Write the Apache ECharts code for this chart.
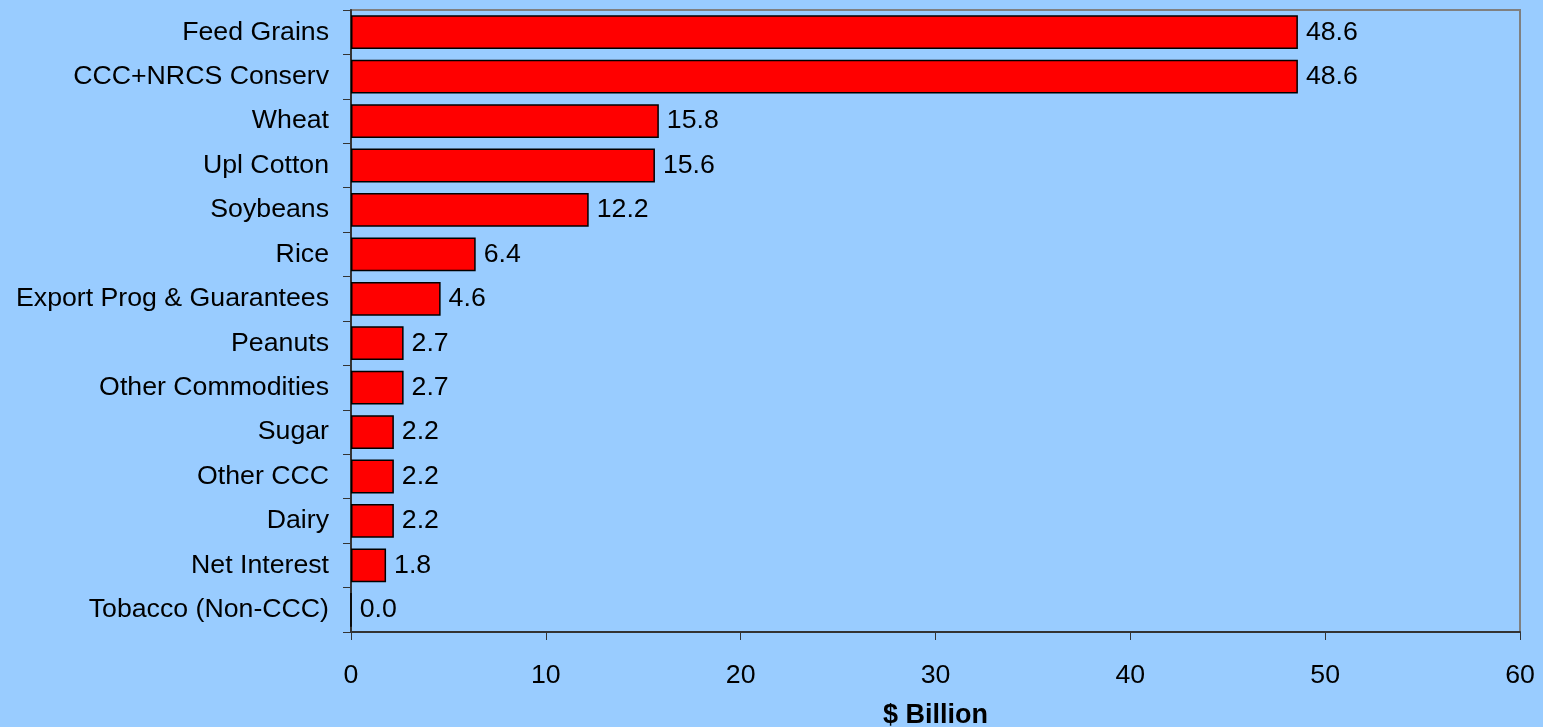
<!DOCTYPE html>
<html><head><meta charset="utf-8">
<script src="https://cdn.jsdelivr.net/npm/echarts@6/dist/echarts.min.js"></script>
<style>html,body{margin:0;padding:0;background:#99CCFF;}#c{width:1543px;height:727px;}</style>
</head><body><div id="c"></div>
<script>
const categories = ["Feed Grains","CCC+NRCS Conserv","Wheat","Upl Cotton","Soybeans","Rice","Export Prog & Guarantees","Peanuts","Other Commodities","Sugar","Other CCC","Dairy","Net Interest","Tobacco (Non-CCC)"];
const values = [48.6,48.6,15.8,15.6,12.2,6.4,4.6,2.7,2.7,2.2,2.2,2.2,1.8,0.0];
const xTicks = [0,10,20,30,40,50,60];

const chart = echarts.init(document.getElementById('c'));
chart.setOption({
  backgroundColor:'#99CCFF',
  animation:false,
  grid:{left:351,right:23,top:10,bottom:95,outerBoundsMode:'none',containLabel:false,show:true,borderColor:'#808080',borderWidth:2,backgroundColor:'transparent'},
  xAxis:{type:'value',min:xTicks[0],max:xTicks[xTicks.length-1],interval:10,
    name:'$ Billion',nameLocation:'middle',nameGap:70,
    nameTextStyle:{fontFamily:'Liberation Sans',fontSize:27,fontWeight:'bold',color:'#000'},
    axisLine:{show:true,lineStyle:{color:'#333',width:2}},
    axisTick:{show:true,length:8,lineStyle:{color:'#333'}},
    axisLabel:{fontFamily:'Liberation Sans',fontSize:26.7,color:'#000',margin:30},
    splitLine:{show:false}},
  yAxis:{type:'category',data:categories,inverse:true,
    axisLine:{show:true,lineStyle:{color:'#333',width:2}},
    axisTick:{show:true,length:8,lineStyle:{color:'#333'}},
    axisLabel:{fontFamily:'Liberation Sans',fontSize:26.7,color:'#000',margin:22}},
  series:[{type:'bar',data:values,barCategoryGap:'24%',
    itemStyle:{color:'#FF0000',borderColor:'#000',borderWidth:1.5},
    label:{show:true,position:'right',distance:8,fontFamily:'Liberation Sans',fontSize:26.7,color:'#000',
      formatter:p=>p.value.toFixed(1)}}]
});
</script></body></html>
